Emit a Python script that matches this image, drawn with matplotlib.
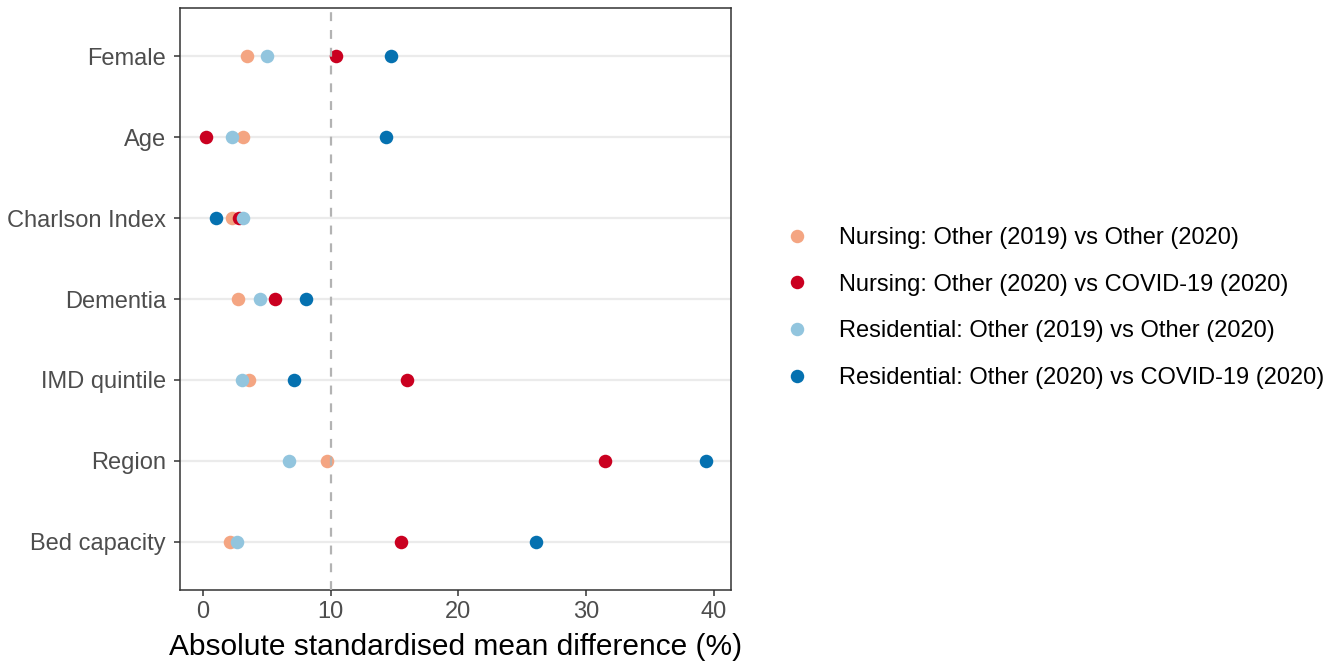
import numpy as np
import matplotlib
matplotlib.use('Agg')
import matplotlib.pyplot as plt
from matplotlib.lines import Line2D

plt.rcParams['font.family'] = ['Liberation Sans', 'DejaVu Sans']

variables = ['Female', 'Age', 'Charlson Index', 'Dementia', 'IMD quintile', 'Region', 'Bed capacity']
comparisons = ['Nursing: Other (2019) vs Other (2020)',
               'Nursing: Other (2020) vs COVID-19 (2020)',
               'Residential: Other (2019) vs Other (2020)',
               'Residential: Other (2020) vs COVID-19 (2020)']
nursing_19_20 = [3.45, 3.1, 2.3, 2.75, 3.6, 9.75, 2.1]
nursing_covid = [10.45, 0.2, 2.85, 5.65, 16.0, 31.5, 15.5]
resid_19_20 = [5.0, 2.25, 3.15, 4.45, 3.05, 6.7, 2.7]
resid_covid = [14.75, 14.35, 1.05, 8.05, 7.15, 39.4, 26.1]
colors = ['#F4A582', '#CA0020', '#92C5DE', '#0571B0']

series = [nursing_19_20, nursing_covid, resid_19_20, resid_covid]

fig = plt.figure(figsize=(13.42, 6.68), dpi=100)
ax = fig.add_axes([180/1342, 1 - 590/668, (731-180)/1342, (590-8)/668])

ypos = np.arange(len(variables))[::-1]
for vals, col in zip(series, colors):
    ax.scatter(vals, ypos, s=95, color=col, linewidths=0, zorder=3)

ax.axvline(10, color='#b3b3b3', linestyle=(0, (4, 4)), linewidth=1.6, zorder=4)

ax.set_xlim(-1.8, 41.35)
ax.set_ylim(-0.6, len(variables) - 0.4)
ax.set_yticks(ypos)
ax.set_yticklabels(variables)
ax.set_xticks([0, 10, 20, 30, 40])
ax.yaxis.grid(True, color='#ebebeb', linewidth=1.6, zorder=0)
ax.set_axisbelow(True)
for sp in ax.spines.values():
    sp.set_color('#333333')
    sp.set_linewidth(1.1)
ax.tick_params(axis='both', colors='#333333', labelcolor='#4d4d4d',
               labelsize=17, length=4, width=1.1)
ax.tick_params(axis='y', pad=6)
ax.tick_params(axis='x', pad=4)
ax.set_xlabel('Absolute standardised mean difference (%)', fontsize=21.5, color='black', labelpad=7)

handles = [Line2D([], [], marker='o', linestyle='', markersize=9.7, markerfacecolor=c,
                  markeredgewidth=0) for c in colors]
fig.legend(handles, comparisons, loc='center left', bbox_to_anchor=(780/1342, 1 - 308/668),
           frameon=False, fontsize=17, labelspacing=1.05, handletextpad=1.1,
           handlelength=1.4, borderaxespad=0, borderpad=0)

fig.savefig('out.png', dpi=100)
